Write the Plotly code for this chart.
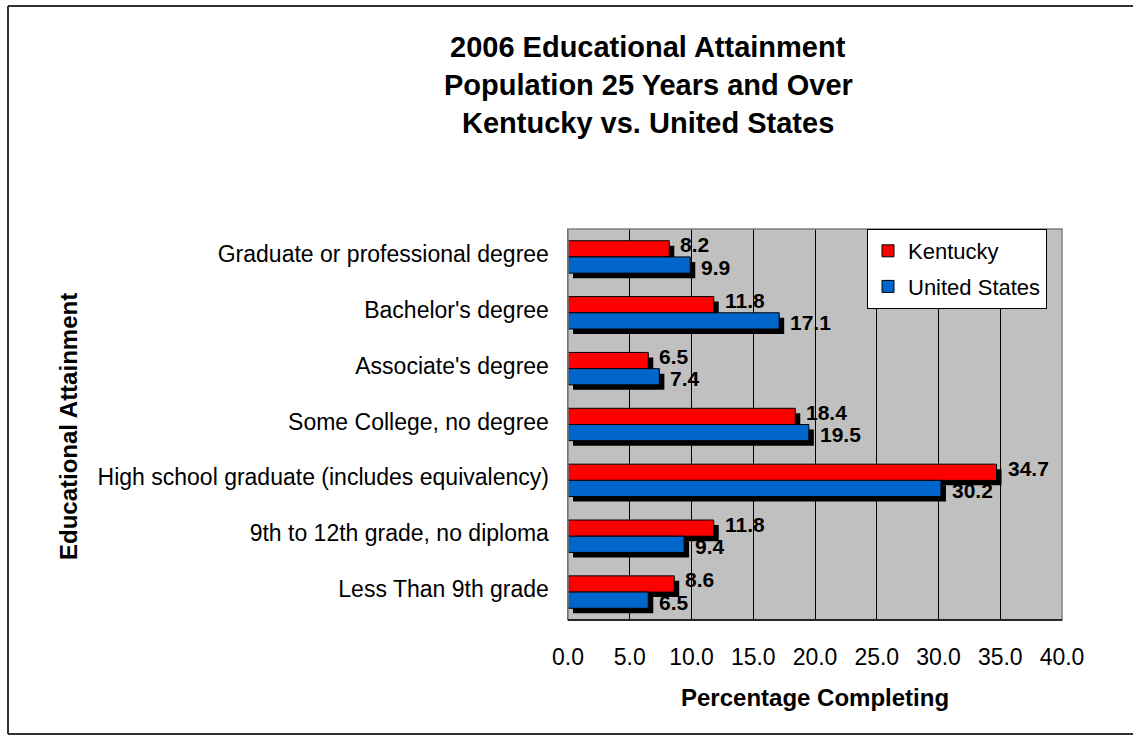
import plotly.graph_objects as go

categories = [
    "Graduate or professional degree",
    "Bachelor's degree",
    "Associate's degree",
    "Some College, no degree",
    "High school graduate (includes equivalency)",
    "9th to 12th grade, no diploma",
    "Less Than 9th grade",
]
kentucky = [8.2, 11.8, 6.5, 18.4, 34.7, 11.8, 8.6]
united_states = [9.9, 17.1, 7.4, 19.5, 30.2, 9.4, 6.5]
series_names = ["Kentucky", "United States"]
series_colors = ["#FF0000", "#0066CC"]
x_ticks = [0, 5, 10, 15, 20, 25, 30, 35, 40]
title_lines = ["2006 Educational Attainment", "Population 25 Years and Over",
               "Kentucky vs. United States"]

FONT = "Liberation Sans, Arial, sans-serif"
W, H = 1133, 736
PL, PR, PT, PB = 568, 1062, 229, 620  # target plot box in page pixels
ML, MR, MT, MB = PL, W - PR, PT, H - PB
PW, PH = PR - PL, PB - PT
BARGAP = 0.42
BW = (1 - BARGAP) / 2

def px_x(p):
    return (p - PL) / PW

def px_y(p):
    return (PB - p) / PH

fig = go.Figure()
for name, vals, col, grp in zip(series_names, [kentucky, united_states], series_colors, ["a", "b"]):
    fig.add_trace(go.Bar(
        y=categories, x=vals, name=name, orientation="h",
        marker=dict(color=col, line=dict(color="#000000", width=1)),
        legendgroup=grp, hoverinfo="skip",
    ))

# shadows
dx = 5 * 40 / PW
dy = 5 / (PH / len(categories))
shapes = []
for s, vals in enumerate([kentucky, united_states]):
    for i, v in enumerate(vals):
        y0 = i - BW + s * BW
        shapes.append(dict(type="rect", xref="x", yref="y", layer="between",
                           x0=dx, x1=v + dx, y0=y0 + dy, y1=y0 + BW + dy,
                           fillcolor="#000000", line=dict(width=0)))
# plot area border
shapes.append(dict(type="rect", xref="paper", yref="paper", x0=0, x1=1, y0=0, y1=1,
                   line=dict(color="#808080", width=1.5), layer="above"))
shapes.append(dict(type="line", xref="paper", yref="paper", x0=0, x1=1, y0=0, y1=0,
                   line=dict(color="#000000", width=1.5), layer="above"))
# outer border: left, top, bottom edges
bx0, bx1, by0, by1 = px_x(8), px_x(1140), px_y(734), px_y(6)
for (xa, ya, xb, yb) in [(bx0, by0, bx0, by1), (bx0, by1, bx1, by1), (bx0, by0, bx1, by0)]:
    shapes.append(dict(type="line", xref="paper", yref="paper",
                       x0=xa, y0=ya, x1=xb, y1=yb,
                       line=dict(color="#333333", width=2), layer="above"))

annotations = []
for s, vals in enumerate([kentucky, united_states]):
    for i, v in enumerate(vals):
        yc = i - BW / 2 + s * BW
        annotations.append(dict(x=v, y=yc, xref="x", yref="y", text=f"<b>{v:.1f}</b>",
                                showarrow=False, xanchor="left", yanchor="middle",
                                xshift=9, yshift=4 if s == 0 else -2,
                                font=dict(family=FONT, size=21, color="#000000")))
for line, yp in zip(title_lines, [47, 85, 123]):
    annotations.append(dict(x=px_x(648), y=px_y(yp), xref="paper", yref="paper",
                            text=f"<b>{line}</b>", showarrow=False,
                            xanchor="center", yanchor="middle",
                            font=dict(family=FONT, size=29, color="#000000")))
annotations.append(dict(x=px_x(815), y=px_y(697), xref="paper", yref="paper",
                        text="<b>Percentage Completing</b>", showarrow=False,
                        xanchor="center", yanchor="middle",
                        font=dict(family=FONT, size=24, color="#000000")))
annotations.append(dict(x=px_x(68), y=px_y(427), xref="paper", yref="paper",
                        text="<b>Educational Attainment</b>", showarrow=False,
                        textangle=-90, xanchor="center", yanchor="middle",
                        font=dict(family=FONT, size=24, color="#000000")))

fig.update_layout(
    width=W, height=H,
    margin=dict(l=ML, r=MR, t=MT, b=MB, autoexpand=False),
    paper_bgcolor="#FFFFFF", plot_bgcolor="#C0C0C0",
    barmode="group", bargap=BARGAP, bargroupgap=0,
    font=dict(family=FONT, color="#000000"),
    showlegend=True, hovermode=False,
    legend=dict(x=px_x(867), y=1, xanchor="left", yanchor="top",
                bgcolor="#FFFFFF", bordercolor="#000000", borderwidth=1,
                font=dict(family=FONT, size=22, color="#000000"),
                tracegroupgap=4, traceorder="grouped"),
    shapes=shapes, annotations=annotations,
    xaxis=dict(range=[0, 40], tickvals=x_ticks, ticktext=[f"{t:.1f}" for t in x_ticks],
               showgrid=True, gridcolor="#000000", gridwidth=1, zeroline=False,
               ticks="", ticklabelstandoff=21,
               tickfont=dict(family=FONT, size=23, color="#000000"),
               showline=False, fixedrange=True),
    yaxis=dict(autorange="reversed", type="category", showgrid=False, zeroline=False,
               ticks="", ticklabelstandoff=13, ticklabelshift=3,
               tickfont=dict(family=FONT, size=23, color="#000000"),
               showline=True, linecolor="#404040", linewidth=1.5, fixedrange=True),
)

fig.write_html("out.html", config={"displayModeBar": False, "staticPlot": True},
               post_script="document.body.style.margin='0';document.body.style.overflow='hidden';")
